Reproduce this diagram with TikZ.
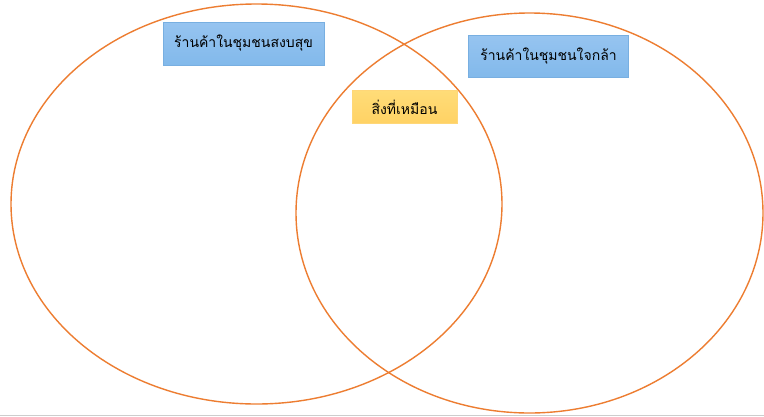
\documentclass[tikz,border=0pt]{standalone}
\usepackage{fontspec}
\usetikzlibrary{shapes.geometric}
\newfontfamily\thaifont[Script=Thai]{Loma}
\begin{document}
\begin{tikzpicture}[x=1pt,y=-1pt,
  ring/.style={draw={rgb,255:red,237;green,125;blue,49}, line width=1.4pt, ellipse, inner sep=0pt, outer sep=0pt},
  bluebox/.style={draw={rgb,255:red,120;green,175;blue,225}, line width=0.6pt,
    top color={rgb,255:red,150;green,196;blue,240}, bottom color={rgb,255:red,130;green,185;blue,235},
    inner sep=0pt, font=\thaifont\fontsize{14}{16}\selectfont},
  yellowbox/.style={draw={rgb,255:red,255;green,215;blue,120}, line width=0.6pt,
    top color={rgb,255:red,255;green,220;blue,120}, bottom color={rgb,255:red,255;green,210;blue,100},
    inner sep=0pt, font=\thaifont\fontsize{14}{16}\selectfont}]
\useasboundingbox (0,0) rectangle (764,416);
\fill[white] (0,0) rectangle (764,416);
\draw[draw={rgb,255:red,205;green,205;blue,205}, line width=1pt] (0,415) -- (764,415);
\node[ring, minimum width=491pt, minimum height=400pt] (L) at (256.5,204) {};
\node[ring, minimum width=467pt, minimum height=400pt] (R) at (529.5,213) {};
\node[bluebox, minimum width=161pt, minimum height=43pt] (a) at (243.5,43.5) {ร้านค้าในชุมชนสงบสุข};
\node[bluebox, minimum width=160pt, minimum height=42pt] (b) at (548.5,56) {ร้านค้าในชุมชนใจกล้า};
\node[yellowbox, minimum width=105pt, minimum height=33pt] (c) at (404.5,107) {สิ่งที่เหมือน};
\end{tikzpicture}
\end{document}
